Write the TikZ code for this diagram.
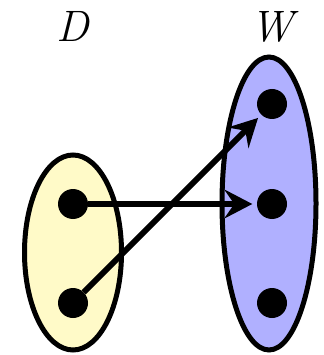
\documentclass[tikz,border=0pt]{standalone}
\usepackage{fontspec}
\usetikzlibrary{shapes.geometric,arrows.meta}
\definecolor{setyellow}{RGB}{255,250,200}
\definecolor{setblue}{RGB}{176,176,255}
\begin{document}
\begin{tikzpicture}[x=1pt,y=-1pt,
  setshape/.style={ellipse,draw=black,line width=5pt,inner sep=0pt},
  elem/.style={circle,fill=black,inner sep=0pt,minimum size=30pt},
  maparrow/.style={line width=6pt,-{Stealth[length=28pt,width=29pt,inset=10pt]},shorten >=4.5pt},
  setlabel/.style={anchor=base,inner sep=0pt,font=\fontsize{44}{44}\selectfont\itshape}]
\useasboundingbox (0,0) rectangle (323,355);
\node[setshape,fill=setyellow,minimum width=97pt,minimum height=195pt] (Dset) at (73,252.5) {};
\node[setshape,fill=setblue,minimum width=94pt,minimum height=293pt] (Wset) at (269,203.5) {};
\node[setlabel] (Dlab) at (73,42) {D};
\node[setlabel] (Wlab) at (272,42) {W};
\node[elem] (d1) at (73,204) {};
\node[elem] (d2) at (73,303) {};
\node[elem] (w1) at (272,104) {};
\node[elem] (w2) at (272,204) {};
\node[elem] (w3) at (272,303) {};
\draw[maparrow] (d1) -- (w2);
\draw[maparrow] (d2) -- (w1);
\end{tikzpicture}
\end{document}
